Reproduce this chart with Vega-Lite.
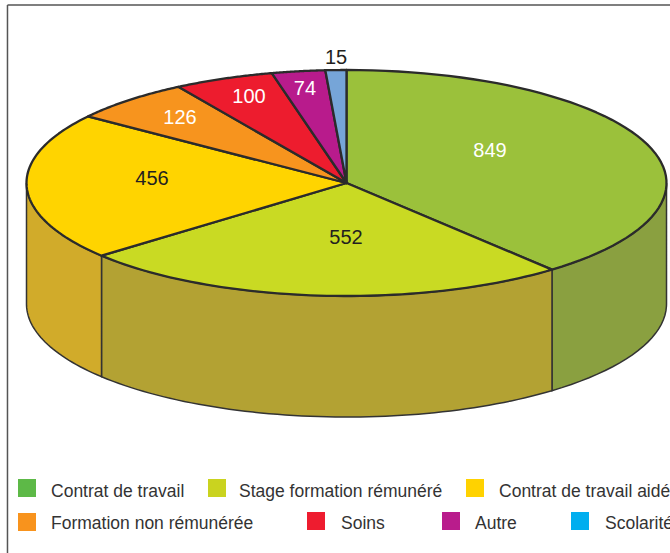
{
"$schema":"https://vega.github.io/schema/vega-lite/v6.json",
"width":670,"height":553,"padding":0,"autosize":{"type":"none"},
"background":"white",
"config":{"view":{"stroke":null},"text":{"font":"Liberation Sans"}},
"datasets":{
"parts":[
{"categorie":"Contrat de travail","value":849,"debut":0,"fin":140.05},
{"categorie":"Stage formation rémunéré","value":552,"debut":140.05,"fin":229.96},
{"categorie":"Contrat de travail aidé","value":456,"debut":229.96,"fin":306.1},
{"categorie":"Formation non rémunérée","value":126,"debut":306.1,"fin":328.3},
{"categorie":"Soins","value":100,"debut":328.3,"fin":346.5},
{"categorie":"Autre","value":74,"debut":346.5,"fin":356.2},
{"categorie":"Scolarité","value":15,"debut":356.2,"fin":360}
],
"etiquettes":[
{"value":849,"lx":0.4484,"ly":0.2876},
{"value":552,"lx":-0.0016,"ly":-0.4823},
{"value":456,"lx":-0.6078,"ly":0.0398},
{"value":126,"lx":-0.5203,"ly":0.5796},
{"value":100,"lx":-0.3047,"ly":0.7655},
{"value":74,"lx":-0.1297,"ly":0.8363},
{"value":15,"lx":-0.0328,"ly":1.1106}
],
"legende":[
{"categorie":"Contrat de travail","sx":-0.9984,"tx":-0.9234,"sy":-2.6991,"ty":-2.7788},
{"categorie":"Stage formation rémunéré","sx":-0.4047,"tx":-0.3359,"sy":-2.6991,"ty":-2.7788},
{"categorie":"Contrat de travail aidé","sx":0.4016,"tx":0.4766,"sy":-2.6991,"ty":-2.7788},
{"categorie":"Formation non rémunérée","sx":-0.9984,"tx":-0.9234,"sy":-3,"ty":-3.0619},
{"categorie":"Soins","sx":-0.0953,"tx":-0.0172,"sy":-2.9912,"ty":-3.0619},
{"categorie":"Autre","sx":0.3266,"tx":0.4016,"sy":-2.9912,"ty":-3.0619},
{"categorie":"Scolarité","sx":0.7297,"tx":0.8078,"sy":-2.9912,"ty":-3.0619}
]
},
"layer":[
{"data":{"name":"parts"},
"transform":[
{"filter":"datum.fin>90 && datum.debut<270"},
{"calculate":"sequence(0,61)","as":"i"},{"flatten":["i"]},
{"calculate":"clamp(datum.debut+(datum.fin-datum.debut)*datum.i/60,90,270)*PI/180","as":"t"},
{"calculate":"sin(datum.t)","as":"x"},
{"calculate":"cos(datum.t)","as":"y"},
{"calculate":"datum.y-1.071","as":"y2"}
],
"mark":{"type":"area","stroke":"#333333","strokeWidth":1.5},
"encoding":{
"x":{"field":"x","type":"quantitative","scale":{"domain":[-1.0828,1.0109],"nice":false,"zero":false},"axis":null},
"y":{"field":"y","type":"quantitative","scale":{"domain":[-3.2743,1.6195],"nice":false,"zero":false},"axis":null},
"y2":{"field":"y2"},
"color":{"field":"categorie","type":"nominal","legend":null,"scale":{"domain":["Contrat de travail","Stage formation rémunéré","Contrat de travail aidé"],"range":["#8AA040","#B3A233","#D1AB2A"]}}
}},
{"data":{"name":"parts"},
"transform":[
{"calculate":"sequence(0,62)","as":"i"},{"flatten":["i"]},
{"calculate":"(datum.debut+(datum.fin-datum.debut)*datum.i/60)*PI/180","as":"t"},
{"calculate":"datum.i==61?0:sin(datum.t)","as":"x"},
{"calculate":"datum.i==61?0:cos(datum.t)","as":"y"}
],
"mark":{"type":"line","interpolate":"linear-closed","stroke":"#2b2b2b","strokeWidth":2.3,"strokeJoin":"round"},
"encoding":{
"x":{"field":"x","type":"quantitative","scale":{"domain":[-1.0828,1.0109],"nice":false,"zero":false},"axis":null},
"y":{"field":"y","type":"quantitative","scale":{"domain":[-3.2743,1.6195],"nice":false,"zero":false},"axis":null},
"order":{"field":"i","type":"quantitative"},
"detail":{"field":"categorie"},
"fill":{"field":"categorie","type":"nominal","legend":null,"scale":{"domain":["Contrat de travail","Stage formation rémunéré","Contrat de travail aidé","Formation non rémunérée","Soins","Autre","Scolarité"],"range":["#9BC13B","#C9DA23","#FFD400","#F7941E","#ED1C2E","#B81B8C","#76A5D8"]}}
}},
{"data":{"name":"etiquettes"},
"mark":{"type":"text","font":"Liberation Sans","fontSize":20,"align":"center","baseline":"middle"},
"encoding":{
"x":{"field":"lx","type":"quantitative","scale":{"domain":[-1.0828,1.0109],"nice":false,"zero":false},"axis":null},
"y":{"field":"ly","type":"quantitative","scale":{"domain":[-3.2743,1.6195],"nice":false,"zero":false},"axis":null},
"text":{"field":"value","type":"quantitative"},
"color":{"condition":{"test":"datum.value==552||datum.value==456||datum.value==15","value":"#231f20"},"value":"#ffffff"}
}},
{"data":{"name":"legende"},
"mark":{"type":"square","size":324,"opacity":1,"strokeWidth":0},
"encoding":{
"x":{"field":"sx","type":"quantitative","scale":{"domain":[-1.0828,1.0109],"nice":false,"zero":false},"axis":null},
"y":{"field":"sy","type":"quantitative","scale":{"domain":[-3.2743,1.6195],"nice":false,"zero":false},"axis":null},
"color":{"field":"categorie","type":"nominal","legend":null,"scale":{"domain":["Contrat de travail","Stage formation rémunéré","Contrat de travail aidé","Formation non rémunérée","Soins","Autre","Scolarité"],"range":["#5DB947","#CAD31F","#FFD200","#F8931D","#EE1C2F","#B91C8C","#00AEEF"]}}
}},
{"data":{"name":"legende"},
"mark":{"type":"text","font":"Liberation Sans","fontSize":17.5,"align":"left","baseline":"alphabetic","color":"#333333"},
"encoding":{
"x":{"field":"tx","type":"quantitative","scale":{"domain":[-1.0828,1.0109],"nice":false,"zero":false},"axis":null},
"y":{"field":"ty","type":"quantitative","scale":{"domain":[-3.2743,1.6195],"nice":false,"zero":false},"axis":null},
"text":{"field":"categorie"}
}},
{"data":{"values":[{"x0":-1.0594,"x1":1.0109,"yh":1.5752,"yb":-3.2743}]},
"mark":{"type":"rule","color":"#555555","strokeWidth":1.5},
"encoding":{
"x":{"field":"x0","type":"quantitative","scale":{"domain":[-1.0828,1.0109],"nice":false,"zero":false},"axis":null},
"y":{"field":"yh","type":"quantitative","scale":{"domain":[-3.2743,1.6195],"nice":false,"zero":false},"axis":null},
"y2":{"field":"yb"}}},
{"data":{"values":[{"x0":-1.0594,"x1":1.0109,"yh":1.5752,"yb":-3.2743}]},
"mark":{"type":"rule","color":"#555555","strokeWidth":1.5},
"encoding":{
"x":{"field":"x0","type":"quantitative","scale":{"domain":[-1.0828,1.0109],"nice":false,"zero":false},"axis":null},
"x2":{"field":"x1"},
"y":{"field":"yh","type":"quantitative","scale":{"domain":[-3.2743,1.6195],"nice":false,"zero":false},"axis":null}}}
],
"resolve":{"scale":{"color":"independent"}}
}
